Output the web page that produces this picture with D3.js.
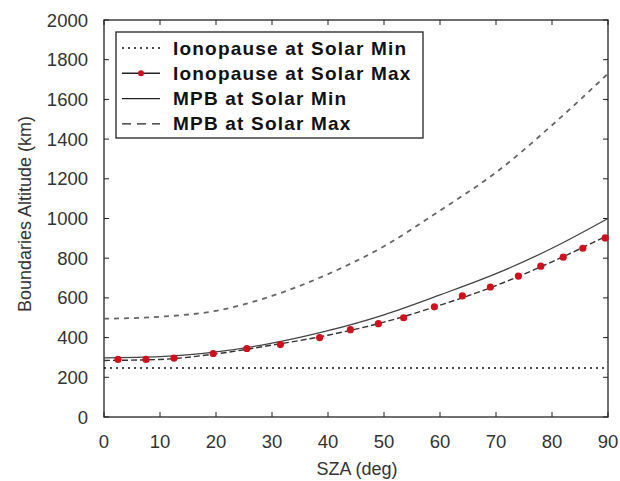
<!DOCTYPE html>
<html>
<head>
<meta charset="utf-8">
<script src="https://cdn.jsdelivr.net/npm/d3@7"></script>
<style>
  body { margin: 0; background: #fff; }
  svg { display: block; }
</style>
</head>
<body>
<svg id="chart" width="620" height="481"></svg>
<script>
// ionopause at solar min - flat
const ionoMinSza = [0, 90];
const ionoMinAlt = [247, 247];

// ionopause at solar max - red dots
const ionoMaxSza = [2.5, 7.5, 12.5, 19.5, 25.5, 31.5, 38.5, 44, 49, 53.5, 59, 64, 69, 74, 78, 82, 85.5, 89.5];
const ionoMaxAlt = [290, 290, 297, 320, 345, 365, 400, 440, 470, 500, 555, 610, 655, 710, 760, 805, 850, 902];
const ionoMaxLineSza = [0, 10, 20, 30, 40, 50, 60, 70, 80, 90];
const ionoMaxLineAlt = [285, 290, 318, 362, 412, 478, 563, 662, 782, 915];

// MPB
const mpbSza = [0, 10, 20, 30, 40, 50, 60, 70, 80, 90];
const mpbMinAlt = [298, 304, 328, 372, 435, 515, 615, 722, 850, 1000];
const mpbMaxAlt = [495, 505, 535, 610, 720, 860, 1040, 1232, 1470, 1730];

const xTicks = [0, 10, 20, 30, 40, 50, 60, 70, 80, 90];
const yTicks = [0, 200, 400, 600, 800, 1000, 1200, 1400, 1600, 1800, 2000];

const legendLabels = ["Ionopause at Solar Min", "Ionopause at Solar Max", "MPB at Solar Min", "MPB at Solar Max"];

const svg = d3.select("#chart");
const pLeft = 104, pRight = 608, pTop = 20, pBottom = 417;

const x = d3.scaleLinear().domain([0, 90]).range([pLeft, pRight]);
const y = d3.scaleLinear().domain([0, 2000]).range([pBottom, pTop]);

const font = "'Liberation Sans', Arial, sans-serif";

// frame
svg.append("rect")
    .attr("x", pLeft).attr("y", pTop)
    .attr("width", pRight - pLeft).attr("height", pBottom - pTop)
    .attr("fill", "none").attr("stroke", "#222").attr("stroke-width", 1.3);

// ticks, pointing inward on all sides
const tl = 5;
xTicks.forEach(t => {
    svg.append("line").attr("x1", x(t)).attr("x2", x(t)).attr("y1", pBottom).attr("y2", pBottom - tl).attr("stroke", "#222");
    svg.append("line").attr("x1", x(t)).attr("x2", x(t)).attr("y1", pTop).attr("y2", pTop + tl).attr("stroke", "#222");
    svg.append("text").attr("x", x(t)).attr("y", pBottom + 31)
        .attr("text-anchor", "middle").attr("font-family", font).attr("font-size", 18.5)
        .attr("fill", "#333").text(t);
});
yTicks.forEach(t => {
    svg.append("line").attr("x1", pLeft).attr("x2", pLeft + tl).attr("y1", y(t)).attr("y2", y(t)).attr("stroke", "#222");
    svg.append("line").attr("x1", pRight).attr("x2", pRight - tl).attr("y1", y(t)).attr("y2", y(t)).attr("stroke", "#222");
    svg.append("text").attr("x", pLeft - 16).attr("y", y(t) + 6.5)
        .attr("text-anchor", "end").attr("font-family", font).attr("font-size", 18.5)
        .attr("fill", "#333").text(t);
});

// axis titles
svg.append("text").attr("x", 357).attr("y", 475)
    .attr("text-anchor", "middle").attr("font-family", font).attr("font-size", 18)
    .attr("fill", "#333").text("SZA (deg)");
svg.append("text")
    .attr("transform", "translate(31,214) rotate(-90)")
    .attr("text-anchor", "middle").attr("font-family", font).attr("font-size", 18)
    .attr("fill", "#333").text("Boundaries Altitude (km)");

const line = d3.line().x(d => x(d[0])).y(d => y(d[1])).curve(d3.curveMonotoneX);

const ionoMin = ionoMinSza.map((s, i) => [s, ionoMinAlt[i]]);
const ionoMaxLine = ionoMaxLineSza.map((s, i) => [s, ionoMaxLineAlt[i]]);
const mpbMin = mpbSza.map((s, i) => [s, mpbMinAlt[i]]);
const mpbMax = mpbSza.map((s, i) => [s, mpbMaxAlt[i]]);
const ionoMax = ionoMaxSza.map((s, i) => [s, ionoMaxAlt[i]]);

svg.append("path").datum(ionoMin).attr("d", line)
    .attr("fill", "none").attr("stroke", "#111").attr("stroke-width", 1.6)
    .attr("stroke-dasharray", "2,4");
svg.append("path").datum(mpbMax).attr("d", line)
    .attr("fill", "none").attr("stroke", "#666").attr("stroke-width", 1.8)
    .attr("stroke-dasharray", "5,5");
svg.append("path").datum(mpbMin).attr("d", line)
    .attr("fill", "none").attr("stroke", "#444").attr("stroke-width", 1.3);
svg.append("path").datum(ionoMaxLine).attr("d", line)
    .attr("fill", "none").attr("stroke", "#333").attr("stroke-width", 1.4)
    .attr("stroke-dasharray", "6,3");
svg.selectAll(".dot").data(ionoMax).enter().append("circle")
    .attr("class", "dot")
    .attr("cx", d => x(d[0])).attr("cy", d => y(d[1])).attr("r", 3.6)
    .attr("fill", "#d0101c");

// legend
const lg = svg.append("g");
lg.append("rect").attr("x", 116).attr("y", 32).attr("width", 307).attr("height", 106)
    .attr("fill", "#fff").attr("stroke", "#222").attr("stroke-width", 1.3);
const styles = [
    { stroke: "#111", dash: "2,4", w: 1.4 },
    { stroke: "#222", dash: null, w: 1.6, dot: true },
    { stroke: "#222", dash: null, w: 1.2 },
    { stroke: "#222", dash: "9,6", w: 1.3 }
];
legendLabels.forEach((lab, i) => {
    const yy = 48 + i * 25.3;
    const s = styles[i];
    lg.append("line").attr("x1", 122).attr("x2", 160).attr("y1", yy).attr("y2", yy)
        .attr("stroke", s.stroke).attr("stroke-width", s.w)
        .attr("stroke-dasharray", s.dash);
    if (s.dot) lg.append("circle").attr("cx", 141).attr("cy", yy).attr("r", 3).attr("fill", "#d0101c");
    lg.append("text").attr("x", 173).attr("y", yy + 6.5)
        .attr("font-family", font).attr("font-weight", "bold").attr("font-size", 19)
        .attr("letter-spacing", 1.2)
        .attr("fill", "#111").text(lab);
});
</script>
</body>
</html>
